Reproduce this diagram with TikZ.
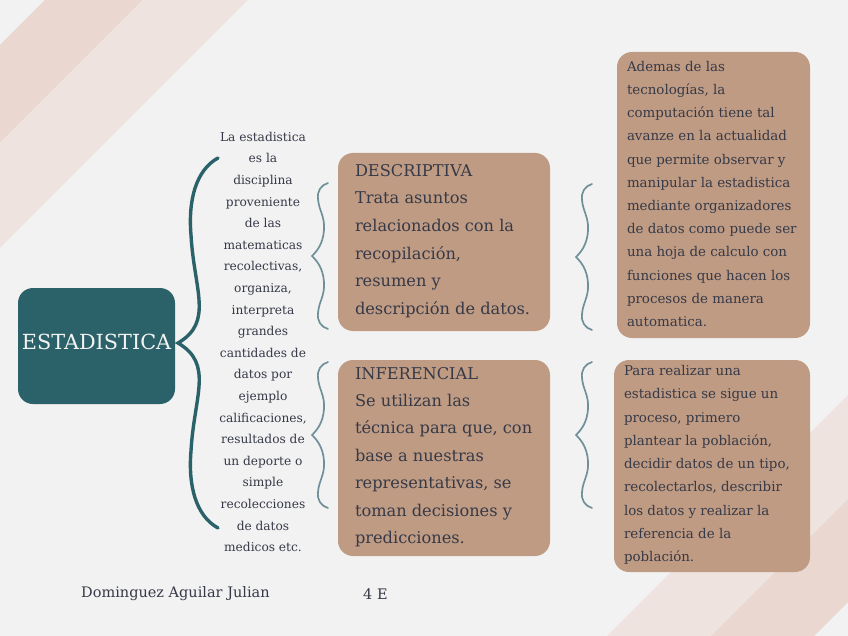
\documentclass[tikz,border=0pt]{standalone}
\usepackage{fontspec}
\setmainfont{DejaVu Serif}
\usetikzlibrary{calc}
\definecolor{bg}{HTML}{F2F2F2}
\definecolor{stripeA}{HTML}{EAD7CF}
\definecolor{stripeB}{HTML}{EEE3DF}
\definecolor{tealc}{HTML}{2B6269}
\definecolor{tanc}{HTML}{BF9B83}
\definecolor{ink}{HTML}{363947}
\definecolor{bracec}{HTML}{6F9098}
\begin{document}
\begin{tikzpicture}[x=1pt,y=-1pt,
  rootbox/.style={rectangle, rounded corners=15pt, fill=tealc, minimum width=157pt, minimum height=116pt, inner sep=0pt},
  tanbox/.style={rectangle, rounded corners=15pt, fill=tanc, inner sep=0pt},
  boxtext/.style={anchor=west, align=left, inner sep=0pt, text=ink},
  midtext/.style={align=center, inner sep=0pt, text=ink, font=\fontsize{12.2}{21.6}\selectfont},
  bigbrace/.style={draw=tealc, line width=3.4pt, line cap=round},
  bracestyle/.style={draw=bracec, line width=1.7pt, line cap=round},
  smallbrace/.pic={
    \draw[bracestyle] (16,-73) .. controls (9,-71) and (5,-65) .. (6,-57)
      .. controls (7,-45) and (13,-40) .. (12,-26)
      .. controls (11,-12) and (5,-5) .. (0,0)
      .. controls (5,5) and (11,12) .. (12,26)
      .. controls (13,40) and (7,45) .. (6,57)
      .. controls (5,65) and (9,71) .. (16,73);
  }
]
\useasboundingbox (0,0) rectangle (848,636);
\fill[bg] (0,0) rectangle (848,636);
% stripes
\fill[stripeA] (45,0) -- (143,0) -- (0,143) -- (0,45) -- cycle;
\fill[stripeB] (143,0) -- (248,0) -- (0,248) -- (0,143) -- cycle;
\fill[stripeB] (607,636) -- (848,395) -- (848,499) -- (711,636) -- cycle;
\fill[stripeA] (711,636) -- (848,499) -- (848,602) -- (814,636) -- cycle;

% root
\node[rootbox, text=bg!90!white, font=\fontsize{20.8}{24}\selectfont, text depth=8pt] (root) at (96.5,346) {ESTADISTICA};

% big brace
\draw[bigbrace] (218,158) .. controls (196,170) and (188,200) .. (191,235)
  .. controls (194,290) and (214,322) .. (178,343)
  .. controls (214,364) and (194,396) .. (191,451)
  .. controls (188,486) and (196,516) .. (218,528);

% definition column
\node[midtext] (def) at (263,342) {La estadistica\\es la\\disciplina\\proveniente\\de las\\matematicas\\recolectivas,\\organiza,\\interpreta\\grandes\\cantidades de\\datos por\\ejemplo\\calificaciones,\\resultados de\\un deporte o\\simple\\recolecciones\\de datos\\medicos etc.};

% small braces
\pic (bl1) at (312,256) {smallbrace};
\pic (bl2) at (312,435) {smallbrace};
\pic (br1) at (576,257) {smallbrace};
\pic (br2) at (576,435) {smallbrace};

% boxes
\node[tanbox, minimum width=212pt, minimum height=178pt] (desc) at (444,242) {};
\node[boxtext, font=\fontsize{16.2}{27.6}\selectfont] (desctext) at ($(desc.west)+(17,-1)$) {DESCRIPTIVA\\Trata asuntos\\relacionados con la\\recopilación,\\resumen y\\descripción de datos.};

\node[tanbox, minimum width=212pt, minimum height=196pt] (inf) at (444,458) {};
\node[boxtext, font=\fontsize{16.2}{27.4}\selectfont] (inftext) at ($(inf.west)+(17,-1)$) {INFERENCIAL\\Se utilizan las\\técnica para que, con\\base a nuestras\\representativas, se\\toman decisiones y\\predicciones.};

\node[tanbox, minimum width=193pt, minimum height=286pt] (tec) at (713.5,195) {};
\node[boxtext, font=\fontsize{13.4}{23.2}\selectfont] (tectext) at ($(tec.west)+(10,-1)$) {Ademas de las\\tecnologías, la\\computación tiene tal\\avanze en la actualidad\\que permite observar y\\manipular la estadistica\\mediante organizadores\\de datos como puede ser\\una hoja de calculo con\\funciones que hacen los\\procesos de manera\\automatica.};

\node[tanbox, minimum width=196pt, minimum height=212pt] (proc) at (712,466) {};
\node[boxtext, font=\fontsize{13.4}{23.25}\selectfont] (proctext) at ($(proc.west)+(10,-1)$) {Para realizar una\\estadistica se sigue un\\proceso, primero\\plantear la población,\\decidir datos de un tipo,\\recolectarlos, describir\\los datos y realizar la\\referencia de la\\población.};

% footer
\node[anchor=west, inner sep=0pt, text=ink, font=\fontsize{14.5}{17}\selectfont] (author) at (81,594) {Dominguez Aguilar Julian};
\node[anchor=west, inner sep=0pt, text=ink, font=\fontsize{14.5}{17}\selectfont] (group) at (363,594) {4 E};
\end{tikzpicture}
\end{document}
